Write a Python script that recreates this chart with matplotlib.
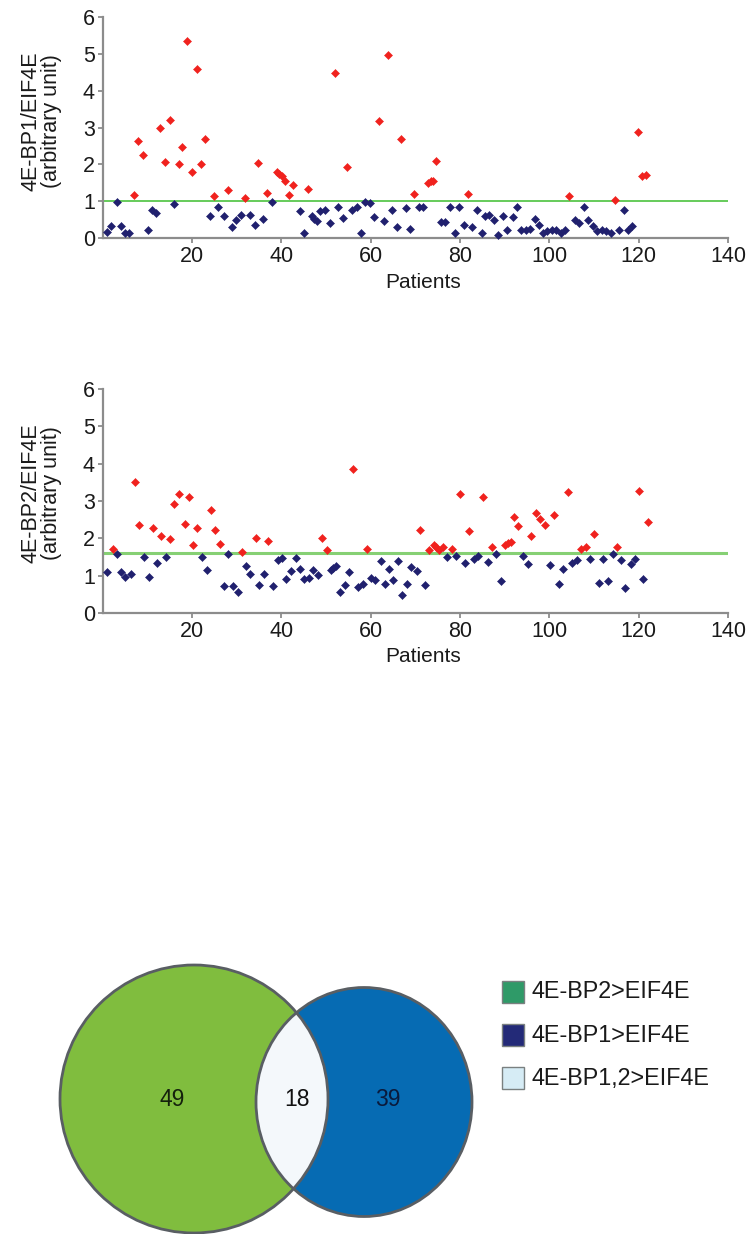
import matplotlib
matplotlib.use("Agg")
import matplotlib.pyplot as plt
from matplotlib.patches import Circle, Ellipse, Rectangle

plt.rcParams['font.family'] = ['Liberation Sans', 'DejaVu Sans']

# ---------------- data ----------------
# Panel 1: 4E-BP1/EIF4E
bp1_high_x = [7.1, 7.9, 9.1, 12.9, 13.9, 15.2, 17.1, 17.9, 19.0, 20.0, 21.1, 22.1, 23.0, 24.9,
              28.1, 31.9, 34.8, 36.8, 39.0, 39.6, 40.1, 40.9, 41.8, 42.7, 46.0, 52.0, 54.7,
              61.9, 63.9, 66.8, 69.7, 72.8, 73.5, 73.9, 74.7, 81.7, 104.5, 114.7, 119.8,
              120.7, 121.7]
bp1_high_y = [1.17, 2.62, 2.25, 2.98, 2.05, 3.20, 2.02, 2.46, 5.35, 1.80, 4.60, 2.00, 2.68, 1.13,
              1.29, 1.09, 2.04, 1.22, 1.80, 1.75, 1.67, 1.55, 1.17, 1.43, 1.33, 4.48, 1.93,
              3.19, 4.97, 2.68, 1.20, 1.49, 1.54, 1.55, 2.10, 1.20, 1.13, 1.04, 2.88,
              1.67, 1.72]
bp1_low_x = [1.1, 2.0, 3.2, 4.1, 5.0, 6.0, 10.1, 11.0, 12.0, 16.1, 24.0, 25.9, 27.1, 29.0, 29.8,
             30.9, 33.1, 34.1, 35.9, 38.0, 44.1, 45.0, 46.8, 47.3, 47.9, 48.7, 49.9, 50.9, 52.8,
             53.9, 55.8, 56.9, 57.9, 58.8, 59.8, 60.7, 62.9, 64.9, 65.9, 67.9, 68.8, 70.8, 71.7,
             75.7, 76.7, 77.7, 78.8, 79.8, 80.8, 82.8, 83.8, 84.9, 85.7, 86.6, 87.6, 88.6, 89.6,
             90.6, 91.8, 92.8, 93.7, 94.7, 95.6, 96.7, 97.8, 98.7, 99.6, 100.6, 101.5, 102.7,
             103.6, 105.7, 106.7, 107.7, 108.6, 109.8, 110.7, 111.7, 112.7, 113.8, 115.7, 116.7,
             117.6, 118.6]
bp1_low_y = [0.16, 0.32, 0.97, 0.32, 0.14, 0.14, 0.23, 0.75, 0.68, 0.93, 0.59, 0.84, 0.60, 0.30, 0.48,
             0.63, 0.63, 0.36, 0.52, 0.99, 0.73, 0.14, 0.59, 0.52, 0.45, 0.72, 0.75, 0.42, 0.83,
             0.53, 0.75, 0.85, 0.14, 0.99, 0.96, 0.56, 0.47, 0.76, 0.30, 0.82, 0.24, 0.84, 0.84,
             0.43, 0.43, 0.83, 0.14, 0.83, 0.36, 0.30, 0.77, 0.14, 0.60, 0.63, 0.50, 0.09, 0.61,
             0.23, 0.57, 0.84, 0.23, 0.23, 0.24, 0.52, 0.36, 0.14, 0.18, 0.23, 0.23, 0.14,
             0.23, 0.50, 0.41, 0.83, 0.48, 0.32, 0.18, 0.23, 0.18, 0.14, 0.23, 0.77,
             0.23, 0.33]
bp1_cutoff = 1.0

# Panel 2: 4E-BP2/EIF4E
bp2_high_x = [2.3, 7.3, 8.2, 11.3, 13.2, 15.2, 16.1, 17.2, 18.4, 19.3, 20.2, 21.1, 24.2, 25.1, 26.2,
              31.2, 34.3, 37.1, 49.1, 50.2, 56.1, 59.2, 71.1, 73.1, 74.2, 74.7, 75.3, 76.1, 78.2,
              80.1, 82.1, 85.1, 87.1, 90.1, 90.8, 91.4, 92.0, 93.0, 96.0, 97.0, 98.0, 99.1,
              101.0, 104.1, 107.2, 108.2, 110.1, 115.1, 120.1, 122.2]
bp2_high_y = [1.72, 3.50, 2.35, 2.28, 2.07, 1.97, 2.91, 3.19, 2.38, 3.10, 1.82, 2.28, 2.76, 2.23, 1.84,
              1.63, 2.02, 1.94, 2.02, 1.69, 3.85, 1.72, 2.23, 1.69, 1.81, 1.76, 1.69, 1.76, 1.72,
              3.19, 2.19, 3.10, 1.76, 1.81, 1.87, 1.90, 2.58, 2.34, 2.07, 2.67, 2.51, 2.35,
              2.62, 3.24, 1.72, 1.76, 2.11, 1.76, 3.27, 2.44]
bp2_low_x = [1.1, 3.2, 4.1, 5.1, 6.4, 9.2, 10.3, 12.2, 14.3, 22.3, 23.3, 27.2, 28.2, 29.2, 30.3,
             32.2, 33.1, 35.1, 36.2, 38.1, 39.2, 40.1, 41.1, 42.2, 43.2, 44.1, 45.0, 46.3, 47.2,
             48.2, 51.1, 51.6, 52.2, 53.1, 54.3, 55.2, 57.1, 58.3, 60.0, 61.0, 62.3, 63.2, 64.2,
             65.0, 66.2, 67.1, 68.2, 69.1, 70.3, 72.1, 77.0, 79.2, 81.1, 83.1, 84.1, 86.2, 88.0,
             89.1, 94.1, 95.2, 100.1, 102.2, 103.1, 105.0, 106.2, 109.1, 111.1, 112.1, 113.1,
             114.2, 116.1, 117.0, 118.2, 119.2, 121.0]
bp2_low_y = [1.10, 1.58, 1.10, 0.96, 1.05, 1.50, 0.96, 1.34, 1.50, 1.50, 1.15, 0.71, 1.57, 0.71, 0.55,
             1.25, 1.05, 0.76, 1.05, 0.71, 1.41, 1.46, 0.91, 1.12, 1.47, 1.19, 0.91, 0.93, 1.14,
             1.02, 1.16, 1.21, 1.27, 0.57, 0.76, 1.10, 0.69, 0.79, 0.95, 0.88, 1.38, 0.79, 1.19,
             0.88, 1.38, 0.49, 0.79, 1.23, 1.12, 0.76, 1.50, 1.54, 1.35, 1.44, 1.54, 1.37, 1.58,
             0.86, 1.54, 1.32, 1.28, 0.79, 1.19, 1.35, 1.41, 1.45, 0.80, 1.45, 0.85,
             1.57, 1.41, 0.68, 1.32, 1.45, 0.91]
bp2_cutoff = 1.62

x_ticks = [20, 40, 60, 80, 100, 120, 140]
y_ticks = [0, 1, 2, 3, 4, 5, 6]

# Venn
venn_labels = ["4E-BP2>EIF4E", "4E-BP1>EIF4E", "4E-BP1,2>EIF4E"]
venn_counts = [49, 18, 39]   # only BP2, both, only BP1
legend_colors = ["#2f9a68", "#232a78", "#d6ecf5"]

# ---------------- figure ----------------
W, H = 750, 1234
fig = plt.figure(figsize=(W / 100, H / 100), dpi=100)

# background axes in pixel coordinates for the Venn diagram
axv = fig.add_axes([0, 0, 1, 1])
axv.set_xlim(0, W)
axv.set_ylim(H, 0)
axv.axis('off')

RED = "#f0221e"
NAVY = "#20206e"
GRAY = "#8c8c8c"


def panel(rect, hx, hy, lx, ly, cutoff, line_color, line_w, ylabel, ylab_y, pat_y):
    ax = fig.add_axes(rect)
    ax.set_xlim(0, 140)
    ax.set_ylim(0, 6)
    ax.axhline(cutoff, color=line_color, lw=line_w, zorder=1)
    ax.plot(lx, ly, 'D', ms=4.0, color=NAVY, mec=NAVY, mew=0.4, zorder=3, clip_on=False)
    ax.plot(hx, hy, 'D', ms=4.0, color=RED, mec=RED, mew=0.4, zorder=3, clip_on=False)
    for s in ['top', 'right']:
        ax.spines[s].set_visible(False)
    for s in ['left', 'bottom']:
        ax.spines[s].set_color(GRAY)
        ax.spines[s].set_linewidth(1.6)
    ax.set_xticks(x_ticks)
    ax.set_yticks(y_ticks)
    ax.tick_params(axis='both', colors=GRAY, length=3.5, width=1.3, labelsize=15.5,
                   labelcolor='#1a1a1a', pad=2)
    ax.set_facecolor('none')
    fig.text(41 / W, 1 - ylab_y / H, ylabel, rotation=90, ha='center', va='center',
             fontsize=15.5, linespacing=0.98, color='#1a1a1a')
    fig.text(423 / W, 1 - pat_y / H, "Patients", ha='center', va='center',
             fontsize=15, color='#1a1a1a')
    return ax


panel([102.5 / W, 1 - 238 / H, 625.5 / W, 221 / H], bp1_high_x, bp1_high_y, bp1_low_x, bp1_low_y,
      bp1_cutoff, "#4cc23e", 1.2, "4E-BP1/EIF4E\n(arbitrary unit)", 121, 282)
panel([102.5 / W, 1 - 613 / H, 625.5 / W, 224 / H], bp2_high_x, bp2_high_y, bp2_low_x, bp2_low_y,
      bp2_cutoff, "#86d074", 2.2, "4E-BP2/EIF4E\n(arbitrary unit)", 493, 657)

# Venn circles
EDGE = "#595e63"
left = Circle((194, 1099), 134, facecolor="#80bd3e", edgecolor='none', zorder=1)
right = Ellipse((364, 1102), 216, 229, facecolor="#066bb3", edgecolor='none', zorder=1)
axv.add_patch(left)
axv.add_patch(right)
lens = Ellipse((364, 1102), 216, 229, facecolor="#f4f8fb", edgecolor='none', zorder=2)
axv.add_patch(lens)
lens.set_clip_path(Circle((194, 1099), 134, transform=axv.transData))
axv.add_patch(Circle((194, 1099), 134, facecolor='none', edgecolor=EDGE, lw=2.0, zorder=3,
                     clip_on=False))
axv.add_patch(Ellipse((364, 1102), 216, 229, facecolor='none', edgecolor=EDGE, lw=2.0, zorder=3))

num_pos = [(172, 1099), (297, 1099), (388, 1100)]
num_col = ["#14200c", "#111111", "#0a1a3c"]
for (px, py), c, col in zip(num_pos, venn_counts, num_col):
    axv.text(px, py, str(c), ha='center', va='center', fontsize=16.5, color=col, zorder=4)

# legend
for i, (lab, col) in enumerate(zip(venn_labels, legend_colors)):
    y0 = 981 + i * 43
    axv.add_patch(Rectangle((502, y0), 22, 22, facecolor=col, edgecolor="#7a8080", lw=1.0,
                            zorder=3))
    axv.text(532, y0 + 11, lab, ha='left', va='center', fontsize=16.8, color='#1a1a1a')

fig.savefig("out.png", dpi=100)
